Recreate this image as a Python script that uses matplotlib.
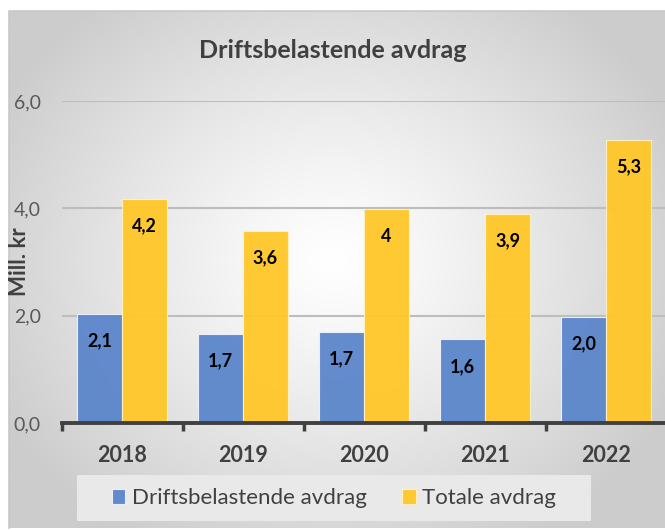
import matplotlib.pyplot as plt
import numpy as np
from matplotlib.patches import Rectangle

years = ['2018', '2019', '2020', '2021', '2022']
drift = [2.04, 1.66, 1.70, 1.56, 1.98]
totale = [4.18, 3.58, 3.98, 3.89, 5.28]
drift_labels = ['2,1', '1,7', '1,7', '1,6', '2,0']
totale_labels = ['4,2', '3,6', '4', '3,9', '5,3']
yticks = [0, 2, 4, 6]
ytick_labels = ['0,0', '2,0', '4,0', '6,0']

plt.rcParams['font.family'] = ['Lato', 'DejaVu Sans']

W, H = 665, 530
fig = plt.figure(figsize=(W / 100, H / 100), dpi=100)
fig.patch.set_facecolor('white')

# chart area with radial gradient (white center, grey edges)
bg = fig.add_axes([8.5 / W, 2 / H, 1 - 8.5 / W, (528 - 11) / H])
bg.set_axis_off()
gx, gy = np.meshgrid(np.linspace(8.5, W, 400), np.linspace(11, 528, 320))
d = np.sqrt(((gx - 333) / 380) ** 2 + ((gy - 260) / 330) ** 2)
shade = 1 - 0.20 * np.clip(d, 0, 1) ** 1.2
bg.imshow(np.dstack([shade] * 3), aspect='auto', extent=[0, 1, 0, 1])
bg.set_xlim(0, 1)
bg.set_ylim(0, 1)
fig.add_artist(plt.Line2D([8.5 / W, 8.5 / W, 1], [2 / H, 1 - 11 / H, 1 - 11 / H],
                          transform=fig.transFigure, color='#c8c8c8', lw=1.2))

ax = fig.add_axes([61.5 / W, 107 / H, 605 / W, 322 / H])
ax.patch.set_alpha(0)
x = np.arange(len(years))
bw = 0.372
b1 = ax.bar(x - bw / 2, drift, bw, color='#5b86cb', edgecolor='#eef2fa', lw=0.8,
            alpha=0.95, label='Driftsbelastende avdrag', zorder=2)
b2 = ax.bar(x + bw / 2, totale, bw, color='#ffc728', edgecolor='#fff2c4', lw=0.8,
            alpha=0.95, label='Totale avdrag', zorder=2)

for bars, labs in ((b1, drift_labels), (b2, totale_labels)):
    for r, lab in zip(bars, labs):
        ax.annotate(lab, (r.get_x() + r.get_width() / 2, r.get_height()),
                    xytext=(0, -27), textcoords='offset pixels', ha='center',
                    va='center', fontsize=13, fontweight='bold', color='black', zorder=3)

ax.set_xlim(-0.5, 4.5)
ax.set_ylim(0, 6)
ax.set_yticks(yticks)
ax.set_yticklabels(ytick_labels, fontsize=14, color='#595959')
ax.tick_params(axis='y', length=0, pad=15)
ax.set_xticks(x)
ax.set_xticklabels(years, fontsize=15.5, fontweight='bold', color='#404040')
ax.tick_params(axis='x', which='major', length=0, pad=16)
ax.set_xticks(np.arange(-0.5, 5, 1), minor=True)
ax.tick_params(axis='x', which='minor', length=6, width=2.5, color='#404040', direction='out')
ax.grid(axis='y', color='#bdbdbd', lw=1.5, zorder=1)
ax.set_axisbelow(True)
for s in ['top', 'right', 'left']:
    ax.spines[s].set_visible(False)
ax.spines['bottom'].set_color('#404040')
ax.spines['bottom'].set_linewidth(2.8)
ax.spines['bottom'].set_zorder(4)

fig.text(333 / W, 1 - 50 / H, 'Driftsbelastende avdrag', ha='center', va='center',
         fontsize=18, fontweight='bold', color='#404040')
fig.text(19 / W, 1 - 262 / H, 'Mill. kr', ha='center', va='center', rotation=90,
         fontsize=16, fontweight='bold', color='#404040')

# legend with light background box
fig.add_artist(Rectangle((77 / W, 1 - 521 / H), (591 - 77) / W, 46 / H,
                         transform=fig.transFigure, facecolor='#e9e9e9', edgecolor='none'))
fig.legend(handles=[b1, b2], loc='center', bbox_to_anchor=(334 / W, 1 - 498 / H),
           ncol=2, frameon=False, fontsize=16, handlelength=0.6, handleheight=0.65,
           handletextpad=0.3, columnspacing=1.6, labelcolor='#404040')

fig.savefig('out.png', dpi=100)
